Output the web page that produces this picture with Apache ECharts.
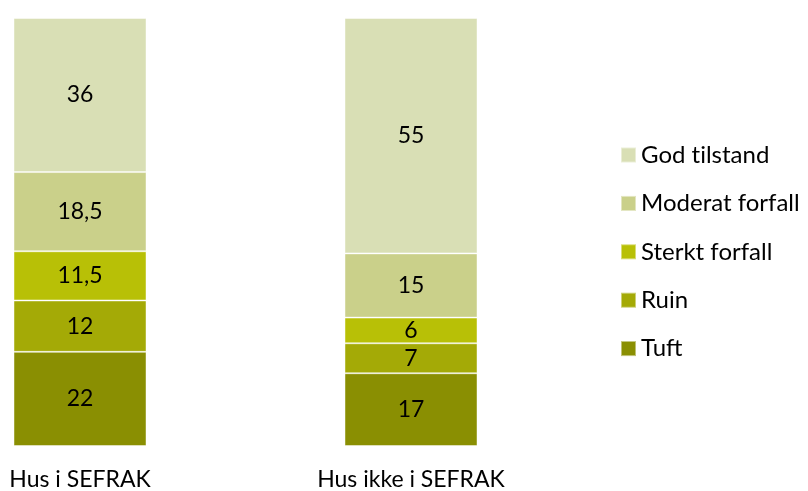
<!DOCTYPE html>
<html><head><meta charset="utf-8">
<script src="https://cdn.jsdelivr.net/npm/echarts@6/dist/echarts.min.js"></script>
<style>html,body{margin:0;padding:0;background:#fff}#c{width:808px;height:491px}</style>
</head><body><div id="c"></div>
<script>
const categories = ['Hus i SEFRAK', 'Hus ikke i SEFRAK'];
const seriesNames = ['Tuft', 'Ruin', 'Sterkt forfall', 'Moderat forfall', 'God tilstand'];
const tuft = [22, 17];
const ruin = [12, 7];
const sterkt = [11.5, 6];
const moderat = [18.5, 15];
const god = [36, 55];
const colors = ['#8A8F02', '#A4AA06', '#B8C006', '#CAD08A', '#D9DFB5'];
const values = [tuft, ruin, sterkt, moderat, god];
const font = 'Lato';
const chart = echarts.init(document.getElementById('c'));
chart.setOption({
  animation: false,
  textStyle: {fontFamily: font},
  grid: {left: -85.5, width: 662, top: 18, bottom: 45, outerBoundsMode: 'none', containLabel: false},
  xAxis: {type: 'category', data: categories,
    axisLine: {show: false}, axisTick: {show: false},
    axisLabel: {color: '#000', fontSize: 23, margin: 22, fontFamily: font}},
  yAxis: {type: 'value', min: 0, max: 100, show: false},
  legend: {orient: 'vertical', left: 615, top: 138, itemWidth: 15, itemHeight: 15, itemGap: 24.4,
    data: seriesNames.slice().reverse(),
    formatter: n => n.replace('ti', 't\u200Ci'),
    textStyle: {fontSize: 24, lineHeight: 24, color: '#000', fontFamily: font, padding: [0,0,0,0]}, icon: 'rect'},
  series: seriesNames.map((n, i) => ({
    name: n, type: 'bar', stack: 'a', barWidth: 133,
    data: values[i],
    itemStyle: {color: colors[i], borderColor: 'rgba(255,255,255,0.45)', borderWidth: 1},
    label: {show: true, position: 'inside', color: '#000', fontSize: 23, fontFamily: font,
      formatter: p => String(p.value).replace('.', ',')}
  }))
});
</script></body></html>
